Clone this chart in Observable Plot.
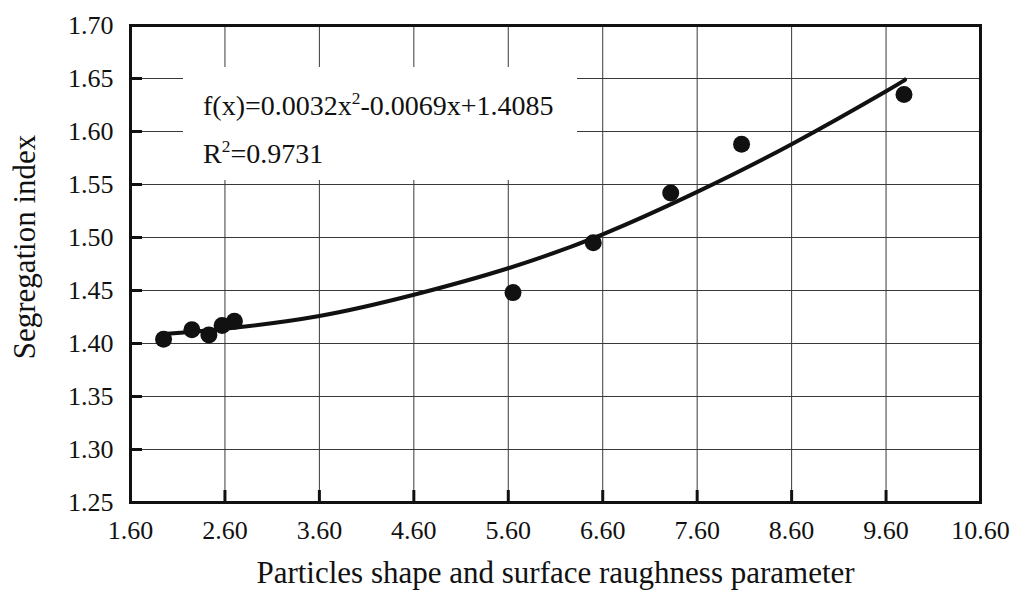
<!DOCTYPE html>
<html>
<head>
<meta charset="utf-8">
<script src="https://cdn.jsdelivr.net/npm/d3@7"></script>
<script src="https://cdn.jsdelivr.net/npm/@observablehq/plot@0.6"></script>
<style>
  html, body { margin: 0; padding: 0; background: #fff; }
  #wrap { position: relative; width: 1019px; height: 591px; }
  #eq { position: absolute; left: 183px; top: 67px; width: 394px; height: 113px;
        background: #fff; box-sizing: border-box; padding: 15px 0 0 20px;
        font-family: "Liberation Serif", serif; font-size: 28px; line-height: 48px; color: #111; }
  #eq sup { font-size: 0.62em; line-height: 0; vertical-align: 0.62em; }
</style>
</head>
<body>
<div id="wrap"></div>
<script>
// Tick values
const xTicks = [1.6, 2.6, 3.6, 4.6, 5.6, 6.6, 7.6, 8.6, 9.6, 10.6];
const yTicks = [1.25, 1.30, 1.35, 1.40, 1.45, 1.50, 1.55, 1.60, 1.65, 1.70];

// Measured points
const pointX = [1.95, 2.25, 2.43, 2.57, 2.70, 5.65, 6.50, 7.32, 8.07, 9.79];
const pointY = [1.404, 1.413, 1.408, 1.417, 1.421, 1.448, 1.495, 1.542, 1.588, 1.635];

// Trend curve
const curveX = [1.95, 2.6, 3.6, 4.6, 5.6, 6.6, 7.6, 8.6, 9.6, 9.8];
const curveY = [1.409, 1.414, 1.426, 1.446, 1.471, 1.503, 1.543, 1.588, 1.638, 1.649];

const points = pointX.map((x, i) => ({x, y: pointY[i]}));
const curve = curveX.map((x, i) => ({x, y: curveY[i]}));

const W = 1019, H = 591, mL = 130, mR = 39, mT = 25, mB = 89;
const innerW = W - mL - mR, innerH = H - mT - mB;

const chart = Plot.plot({
  width: W, height: H,
  marginLeft: mL, marginRight: mR, marginTop: mT, marginBottom: mB,
  x: {domain: [1.6, 10.6]},
  y: {domain: [1.25, 1.70]},
  style: {fontFamily: "Liberation Serif, serif", fontSize: "26px", color: "#111", background: "#fff"},
  marks: [
    Plot.gridX(xTicks, {stroke: "#3a3a3a", strokeOpacity: 1, strokeWidth: 1}),
    Plot.gridY(yTicks, {stroke: "#3a3a3a", strokeOpacity: 1, strokeWidth: 1}),
    Plot.ruleX(xTicks, {stroke: "#111", strokeWidth: 3, insetTop: innerH - 12}),
    Plot.ruleY(yTicks, {stroke: "#111", strokeWidth: 3, insetRight: innerW - 12}),
    Plot.axisX(xTicks, {tickSize: 0, tickPadding: 18, tickFormat: d => d.toFixed(2),
      label: "Particles shape and surface raughness parameter", labelAnchor: "center", labelArrow: "none",
      labelOffset: 80, fontSize: 26}),
    Plot.axisY(yTicks, {tickSize: 0, tickPadding: 17, tickFormat: d => d.toFixed(2),
      label: "Segregation index", labelAnchor: "center", labelArrow: "none",
      labelOffset: 118, fontSize: 26}),
    Plot.line(curve, {x: "x", y: "y", curve: "natural", stroke: "#111", strokeWidth: 4}),
    Plot.dot(points, {x: "x", y: "y", r: 8.5, fill: "#111", stroke: "none"}),
    Plot.frame({stroke: "#111", strokeWidth: 3})
  ]
});
chart.querySelectorAll('[aria-label="x-axis label"] text, [aria-label="y-axis label"] text').forEach(t => t.style.fontSize = "31px");
chart.querySelectorAll('[aria-label="y-axis label"] text').forEach(t => t.setAttribute("dx", "17"));
const wrap = document.getElementById("wrap");
wrap.appendChild(chart);
const eq = document.createElement("div");
eq.id = "eq";
eq.innerHTML = "f(x)=0.0032x<sup>2</sup>-0.0069x+1.4085<br>R<sup>2</sup>=0.9731";
wrap.appendChild(eq);
</script>
</body>
</html>
